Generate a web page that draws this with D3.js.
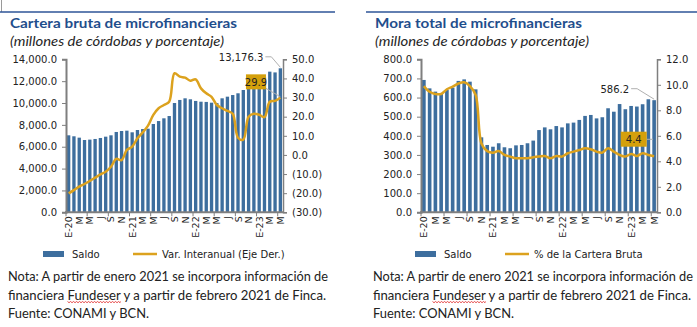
<!DOCTYPE html>
<html>
<head>
<meta charset="utf-8">
<script src="https://cdn.jsdelivr.net/npm/d3@7"></script>
<style>
body { margin: 0; background: #fff; }
svg { display: block; }
text { font-family: "DejaVu Sans", Verdana, sans-serif; fill: #222; }
.gothic { font-family: Lato, "Noto Sans", sans-serif; }
</style>
</head>
<body>
<svg id="chart" width="697" height="327"></svg>
<script>
// months Jan 2020 .. May 2023
const months = [
    "E-20","F-20","Mz-20","A-20","My-20","Jn-20","Jl-20","Ag-20","S-20","O-20","N-20","D-20",
    "E-21","F-21","Mz-21","A-21","My-21","Jn-21","Jl-21","Ag-21","S-21","O-21","N-21","D-21",
    "E-22","F-22","Mz-22","A-22","My-22","Jn-22","Jl-22","Ag-22","S-22","O-22","N-22","D-22",
    "E-23","F-23","Mz-23","A-23","My-23"
];
const tickLabels = [
    "E-20","","M","","M","","J","","S","","N","",
    "E-21","","M","","M","","J","","S","","N","",
    "E-22","","M","","M","","J","","S","","N","",
    "E-23","","M","","M"
];

// Cartera bruta (millones de córdobas) and var. interanual (%)
const carteraSaldo = [
    7045, 6955, 6830, 6615, 6650, 6710, 6800, 6920, 7045, 7350, 7440, 7470,
    7320, 7530, 7620, 7650, 8080, 8350, 8600, 8810, 10000, 10280, 10430, 10340,
    10190, 10120, 10100, 10030, 9990, 10430, 10580, 10730, 10890, 11190, 12540, 12450,
    12220, 12330, 12870, 12800, 13176.3
];
const carteraVar = [
    -20.1, -18.4, -16.6, -15.2, -13.6, -11.9, -10.2, -8.8, -6.2, -2.1, -2.7, 2.6,
    4.3, 8.7, 11.8, 15.3, 20.9, 24.4, 26.1, 27.8, 42.7, 40.9, 40.4, 38.8,
    39.5, 34.8, 32.2, 30.4, 26.1, 24.4, 23.0, 21.5, 9.0, 8.0, 20.0, 21.5,
    21.0, 19.8, 27.8, 28.3, 29.9
];

// Mora total (millones de córdobas) and % de la cartera bruta
const moraSaldo = [
    692, 648, 631, 622, 640, 652, 687, 695, 683, 643, 392, 352,
    343, 361, 340, 335, 350, 352, 361, 375, 430, 444, 434, 451,
    444, 465, 469, 483, 504, 509, 491, 497, 544, 526, 566, 539,
    556, 553, 565, 591, 586.2
];
const moraPct = [
    9.9, 9.45, 9.28, 9.28, 9.65, 9.86, 10.1, 10.2, 9.9, 9.2, 5.4, 4.8,
    4.68, 4.81, 4.5, 4.37, 4.24, 4.24, 4.24, 4.31, 4.37, 4.42, 4.24, 4.42,
    4.37, 4.63, 4.76, 4.89, 5.02, 4.94, 4.76, 4.68, 5.02, 4.76, 4.5, 4.37,
    4.58, 4.42, 4.63, 4.5, 4.4
];

const carteraLeftTicks = [0, 2000, 4000, 6000, 8000, 10000, 12000, 14000];
const carteraRightTicks = [-30, -20, -10, 0, 10, 20, 30, 40, 50];
const moraLeftTicks = [0, 100, 200, 300, 400, 500, 600, 700, 800];
const moraRightTicks = [0, 2, 4, 6, 8, 10, 12];

const footLines = [
    "Nota: A partir de enero 2021 se incorpora información de",
    "financiera Fundeser y a partir de febrero 2021 de Finca.",
    "Fuente: CONAMI y BCN."
];

const svg = d3.select("#chart");
const fmt = d3.format(",.1f");
const fmtParen = v => v < 0 ? `(${fmt(-v)})` : fmt(v);

const BAR = "#3d6e9e";
const GOLD = "#dca21e";
const BOX = "#d4a00c";
const AXIS = "#7f7f7f";
const Y_TOP = 59.3, Y_BOT = 212.3;

function drawPanel(p) {
    const g = svg.append("g");

    g.append("line")
        .attr("x1", p.ruleX0).attr("x2", p.ruleX1)
        .attr("y1", 12).attr("y2", 12)
        .attr("stroke", "#2e5597").attr("stroke-width", 1.5);

    g.append("text").attr("class", "gothic")
        .attr("x", p.textX).attr("y", 27.5)
        .attr("font-size", 13).attr("font-weight", "bold")
        .style("fill", "#1f4e8c")
        .attr("textLength", p.titleW).attr("lengthAdjust", "spacingAndGlyphs")
        .text(p.title);
    g.append("text").attr("class", "gothic")
        .attr("x", p.textX).attr("y", 45.5)
        .attr("font-size", 12.5).attr("font-style", "italic")
        .style("fill", "#262626")
        .attr("textLength", 214).attr("lengthAdjust", "spacingAndGlyphs")
        .text("(millones de córdobas y porcentaje)");

    const x = d3.scaleBand().domain(months).range([p.x0, p.x1]);
    const yL = d3.scaleLinear().domain(d3.extent(p.leftTicks)).range([Y_BOT, Y_TOP]);
    const yR = d3.scaleLinear().domain(d3.extent(p.rightTicks)).range([Y_BOT, Y_TOP]);
    const bw = x.bandwidth() * 0.63;
    const cx = i => x(months[i]) + x.bandwidth() / 2;

    // bars
    g.append("g").selectAll("rect")
        .data(p.bars)
        .join("rect")
        .attr("x", (d, i) => cx(i) - bw / 2)
        .attr("y", d => yL(d))
        .attr("width", bw)
        .attr("height", d => Y_BOT - yL(d))
        .attr("fill", BAR);

    // left axis
    const ax = g.append("g").attr("transform", `translate(${p.x0},0)`)
        .call(d3.axisLeft(yL).tickValues(p.leftTicks).tickFormat(fmt).tickSize(4).tickPadding(5));
    // right axis
    const ar = g.append("g").attr("transform", `translate(${p.x1},0)`)
        .call(d3.axisRight(yR).tickValues(p.rightTicks).tickFormat(fmtParen).tickSize(4).tickPadding(5));
    [ax, ar].forEach(a => {
        a.select(".domain").attr("stroke", AXIS).attr("stroke-width", a === ax ? 2 : 1.5);
        a.selectAll(".tick line").attr("stroke", AXIS);
        a.selectAll(".tick text").attr("font-size", 10).attr("font-family", "DejaVu Sans").style("fill", "#222");
    });

    // bottom axis
    g.append("line")
        .attr("x1", p.x0 - 1).attr("x2", p.x1)
        .attr("y1", Y_BOT).attr("y2", Y_BOT)
        .attr("stroke", AXIS).attr("stroke-width", 2);
    g.append("g").selectAll("line")
        .data(months.filter((m, i) => i % 4 === 0))
        .join("line")
        .attr("x1", d => x(d)).attr("x2", d => x(d))
        .attr("y1", Y_BOT).attr("y2", Y_BOT + 4)
        .attr("stroke", AXIS);
    g.append("g").selectAll("text")
        .data(tickLabels.map((t, i) => ({t, i})).filter(d => d.t))
        .join("text")
        .attr("transform", d => `translate(${cx(d.i) + 3.5},${Y_BOT + 4}) rotate(-90)`)
        .attr("text-anchor", "end")
        .attr("font-size", 9.5)
        .text(d => d.t);

    // line on right axis
    const line = d3.line()
        .x((d, i) => cx(i))
        .y(d => yR(d))
        .curve(d3.curveCatmullRom.alpha(0.5));
    g.append("path")
        .datum(p.line)
        .attr("d", line)
        .attr("fill", "none")
        .attr("stroke", GOLD)
        .attr("stroke-width", 2.5);

    // annotations on last point
    const n = months.length - 1;
    const lx = cx(n);
    const barTop = yL(p.bars[n]);
    const linePt = yR(p.line[n]);
    g.append("polyline")
        .attr("points", `${lx - p.valLead},${barTop - 11.5} ${lx - p.valLead + 6},${barTop - 11.5} ${lx},${barTop - 1}`)
        .attr("fill", "none").attr("stroke", "#b0b0b0").attr("stroke-width", 1);
    g.append("text")
        .attr("x", lx - p.valLead - 2).attr("y", barTop - 7.5)
        .attr("text-anchor", "end").attr("font-size", 10)
        .text(fmt(p.bars[n]));

    const bx = lx + p.boxDx, by = linePt + p.boxDy;
    g.append("line")
        .attr("x1", bx + p.boxW).attr("y1", by + p.leadY)
        .attr("x2", p.leadX2(lx)).attr("y2", p.leadY2(linePt, by))
        .attr("stroke", "#b0b0b0").attr("stroke-width", 1);
    g.append("rect")
        .attr("x", bx).attr("y", by)
        .attr("width", p.boxW).attr("height", 15)
        .attr("fill", BOX);
    g.append("text")
        .attr("x", bx + p.boxW / 2).attr("y", by + 11.3)
        .attr("text-anchor", "middle").attr("font-size", 10)
        .text(fmt(p.line[n]));

    // legend
    g.append("rect")
        .attr("x", p.legX).attr("y", 251)
        .attr("width", 21).attr("height", 6)
        .attr("fill", BAR);
    g.append("text").attr("x", p.legX + 29).attr("y", 257.5).attr("font-size", 10).text("Saldo");
    g.append("line")
        .attr("x1", p.legX + 90).attr("x2", p.legX + 114)
        .attr("y1", 254).attr("y2", 254)
        .attr("stroke", GOLD).attr("stroke-width", 2.5);
    g.append("text").attr("x", p.legX + 119).attr("y", 257.5).attr("font-size", 10).text(p.lineName);

    // footnote
    const widths = [320, 318, 141];
    footLines.forEach((s, k) => {
        const t = g.append("text").attr("class", "gothic")
            .attr("x", p.footX).attr("y", 281 + k * 18.5)
            .attr("font-size", 12.5)
            .attr("textLength", widths[k]).attr("lengthAdjust", "spacingAndGlyphs")
            .text(s);
        if (k === 1) {
            const node = t.node();
            const a = node.getStartPositionOfChar(11).x;
            const b = node.getEndPositionOfChar(18).x;
            let d = `M${a},${283 + k * 18.5}`;
            for (let xx = a, up = true; xx < b; xx += 1.5, up = !up) {
                d += ` L${Math.min(xx + 1.5, b)},${283 + k * 18.5 + (up ? 1.2 : 0)}`;
            }
            g.append("path").attr("d", d).attr("fill", "none")
                .attr("stroke", "#e02020").attr("stroke-width", 0.8);
        }
    });
}

// left border tick at top
svg.append("line").attr("x1", 1.5).attr("x2", 1.5).attr("y1", 0).attr("y2", 12)
    .attr("stroke", "#9a9a9a").attr("stroke-width", 1);

drawPanel({
    title: "Cartera bruta de microfinancieras",
    titleW: 227,
    textX: 10, footX: 8,
    ruleX0: 0, ruleX1: 335,
    x0: 66, x1: 283,
    leftTicks: carteraLeftTicks, rightTicks: carteraRightTicks,
    bars: carteraSaldo, line: carteraVar,
    valLead: 15,
    boxDx: -34.4, boxDy: -23.4, boxW: 20, leadY: 14,
    leadX2: lx => lx, leadY2: (pt) => pt - 1,
    legX: 43,
    lineName: "Var. Interanual (Eje Der.)"
});

drawPanel({
    title: "Mora total de microfinancieras",
    titleW: 207,
    textX: 375, footX: 373,
    ruleX0: 366, ruleX1: 697,
    x0: 421, x1: 657,
    leftTicks: moraLeftTicks, rightTicks: moraRightTicks,
    bars: moraSaldo, line: moraPct,
    valLead: 23,
    boxDx: -33.4, boxDy: -24.5, boxW: 26, leadY: 7.6,
    leadX2: lx => lx - 1, leadY2: (pt, by) => by + 7.6,
    legX: 415,
    lineName: "% de la Cartera Bruta"
});
</script>
</body>
</html>
